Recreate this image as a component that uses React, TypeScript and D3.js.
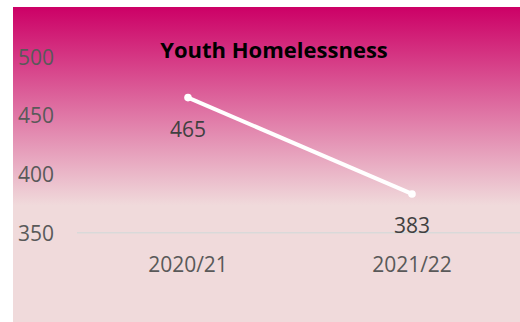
import React from "react";
import * as d3 from "d3";

const categories = ["2020/21", "2021/22"];
const values = [465, 383];
const yTicks = [350, 400, 450, 500];
const title = "Youth Homelessness";

const W = 520;
const H = 322;

export default function App() {
  const x = d3.scaleBand<string>().domain(categories).range([76, 524]).padding(0);
  const y = d3.scaleLinear().domain([350, 500]).range([232.7, 56.5]);
  const cx = (c: string) => (x(c) ?? 0) + x.bandwidth() / 2;
  const line = d3
    .line<number>()
    .x((_, i) => cx(categories[i]))
    .y((d) => y(d));
  const font = "'Open Sans', sans-serif";
  return (
    <svg
      width={W}
      height={H}
      style={{ position: "absolute", left: 0, top: 0, display: "block" }}
    >
      <defs>
        <linearGradient id="bg" x1="0" y1="7" x2="0" y2="322" gradientUnits="userSpaceOnUse">
          <stop offset="0" stopColor="#CC0066" />
          <stop offset="0.63" stopColor="#F0DADB" />
          <stop offset="1" stopColor="#F0DADB" />
        </linearGradient>
      </defs>
      <rect x={0} y={0} width={W} height={H} fill="#ffffff" />
      <rect x={13} y={7} width={W - 13} height={H - 7} fill="url(#bg)" />
      <line x1={77} x2={W} y1={y(350)} y2={y(350)} stroke="#D9D9D9" strokeWidth={1.5} />
      {yTicks.map((t) => (
        <text
          key={t}
          x={54}
          y={y(t)}
          textAnchor="end"
          dominantBaseline="central"
          fontFamily={font}
          fontSize={21}
          fill="#595959"
        >
          {t}
        </text>
      ))}
      {categories.map((c) => (
        <text
          key={c}
          x={cx(c)}
          y={263.5}
          textAnchor="middle"
          dominantBaseline="central"
          fontFamily={font}
          fontSize={21}
          fill="#595959"
        >
          {c}
        </text>
      ))}
      <path d={line(values) ?? ""} fill="none" stroke="#ffffff" strokeWidth={4} />
      {values.map((v, i) => (
        <circle key={i} cx={cx(categories[i])} cy={y(v)} r={3.8} fill="#ffffff" />
      ))}
      {values.map((v, i) => (
        <text
          key={"l" + i}
          x={cx(categories[i])}
          y={y(v) + 31.5}
          textAnchor="middle"
          dominantBaseline="central"
          fontFamily={font}
          fontSize={21}
          fill="#404040"
        >
          {v}
        </text>
      ))}
      <text
        x={274}
        y={58}
        textAnchor="middle"
        fontFamily={font}
        fontWeight="bold"
        fontSize={22}
        fill="#000000"
      >
        {title}
      </text>
    </svg>
  );
}
